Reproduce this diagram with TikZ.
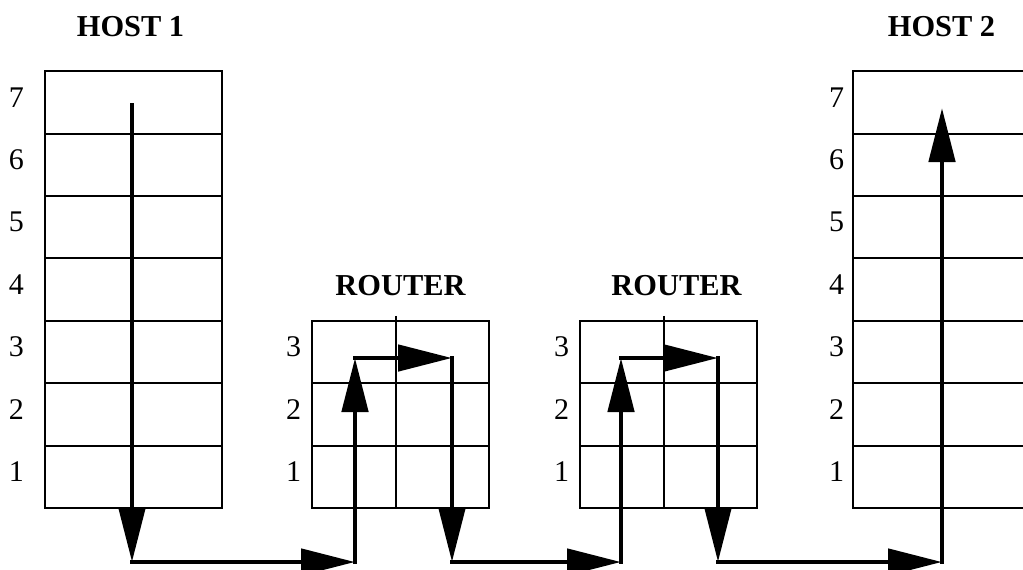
\documentclass[tikz,border=0pt]{standalone}
\usepackage{fontspec}
\setmainfont{Liberation Serif}
\usetikzlibrary{positioning, arrows.meta}
\tikzset{
  >={Triangle[length=27pt, width=13pt]},
  every node/.style={font=\fontsize{15}{17}\selectfont},
  layer/.style={
    rectangle, draw, line width=1pt, outer sep=0pt, inner sep=0pt,
    minimum width=88.5pt, minimum height=31.2pt
  },
  layernum/.style={inner sep=0pt, yshift=2.5pt},
  boxtitle/.style={inner sep=0pt, font=\fontsize{15.2}{17}\selectfont\bfseries},
  flowarrow/.style={->, line width=2.4pt, line cap=rect, line join=miter}
}

\begin{document}
\begin{tikzpicture}[x=0.5pt, y=-0.5pt]
\clip (0,0) rectangle (1023,569);

% end hosts, seven layers
\foreach \h/\x/\g in {h1/45/10.3pt, h2/853/4.3pt} {
  \node[layer, anchor=south west] (\h-1) at (\x,508) {};
  \foreach \n/\m in {2/1,3/2,4/3,5/4,6/5,7/6}
    \node[layer, above=0pt of \h-\m] (\h-\n) {};
  \foreach \n in {1,...,7}
    \node[layernum, left=\g of \h-\n.west] (\h-num\n) {\n};
}

% routers, three layers split down the middle
\foreach \r/\x/\g in {r1/312/5.3pt, r2/580/5.3pt} {
  \node[layer, anchor=south west] (\r-1) at (\x,508) {};
  \foreach \n/\m in {2/1,3/2}
    \node[layer, above=0pt of \r-\m] (\r-\n) {};
  \foreach \n in {1,2,3}
    \node[layernum, left=\g of \r-\n.west] (\r-num\n) {\n};
  \draw[line width=1pt] ([xshift=-2.3pt, yshift=2.5pt]\r-3.north)
    -- ([xshift=-2.3pt]\r-1.south);
}

\node[boxtitle, above=17pt of h1-7, xshift=-1.5pt] (h1-title) {HOST 1};
\node[boxtitle, above=17pt of h2-7] (h2-title) {HOST 2};
\node[boxtitle, above=12.5pt of r1-3] (r1-title) {ROUTER};
\node[boxtitle, above=12.5pt of r2-3, xshift=4pt] (r2-title) {ROUTER};

% turning points of the data path
\coordinate (src) at (132,105);
\coordinate (b1) at (132,562);
\coordinate (b2) at (355,562);
\coordinate (u1) at (355,358);
\coordinate (u2) at (452,358);
\coordinate (b3) at (452,562);
\coordinate (b4) at (621,562);
\coordinate (u3) at (621,358);
\coordinate (u4) at (718,358);
\coordinate (b5) at (718,562);
\coordinate (b6) at (942,562);
\coordinate (dst) at (942,108);

\foreach \a/\b in {src/b1, b1/b2, b2/u1, u1/u2, u2/b3, b3/b4,
                   b4/u3, u3/u4, u4/b5, b5/b6, b6/dst}
  \draw[flowarrow] (\a) -- (\b);
\end{tikzpicture}
\end{document}
